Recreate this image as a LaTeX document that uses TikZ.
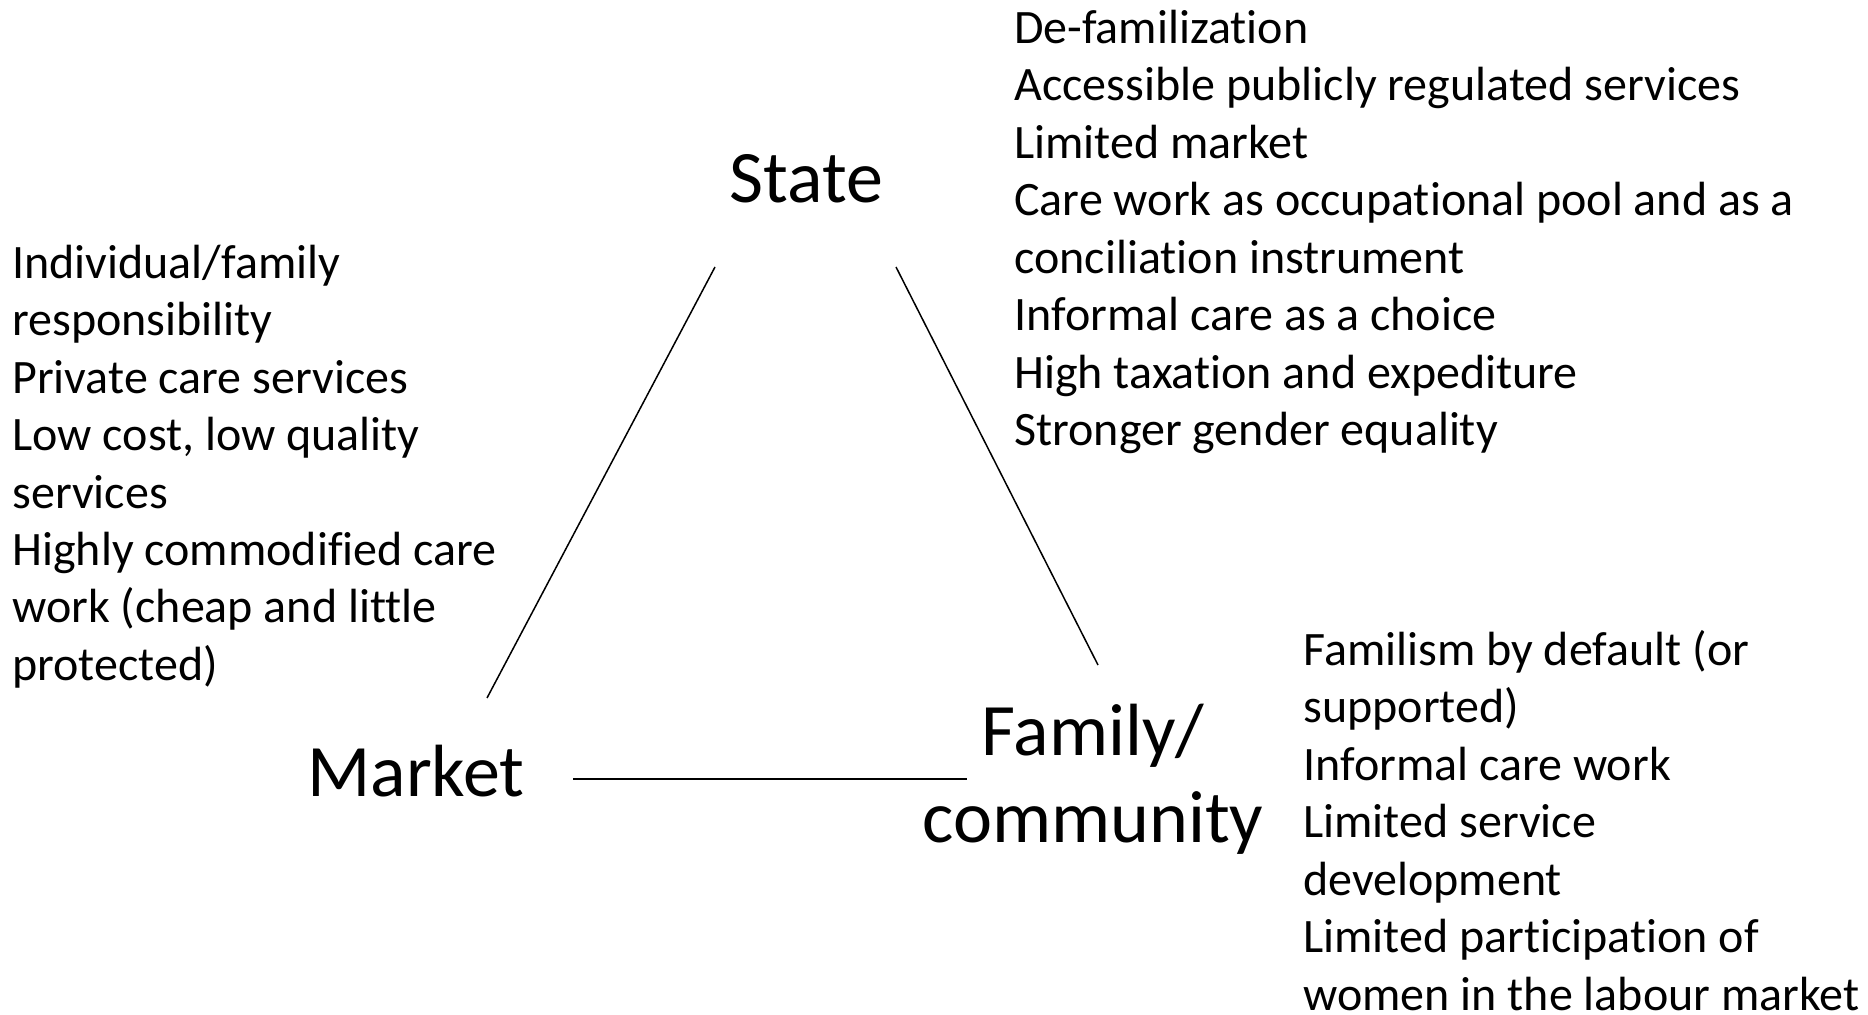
\documentclass[tikz,border=0pt]{standalone}
\usepackage{fontspec}
\setmainfont{Carlito}[Ligatures=NoCommon]
\tikzset{
  pole/.style={font=\fontsize{37}{43.5}\selectfont,inner sep=0pt},
  traits/.style={font=\fontsize{24}{28.75}\selectfont,inner sep=0pt,align=left,anchor=base west},
  side/.style={line width=0.75pt}
}
\begin{document}
\begin{tikzpicture}[x=0.5pt,y=-0.5pt]
\useasboundingbox (0,0) rectangle (1868,1015);
% the three poles
\node[pole,anchor=base west] (state) at (729,203) {State};
\node[pole,anchor=base west] (market) at (307,796) {Market};
\node[pole,align=center,anchor=base] (family) at (1093,842) {Family/\\community};
% ends of the sides
\coordinate (sl) at (715,267);
\coordinate (sr) at (896,267);
\coordinate (mt) at (487,698);
\coordinate (mr) at (573,779);
\coordinate (ft) at (1098,665);
\coordinate (fl) at (967,779);
\draw[side] (sl) -- (mt);
\draw[side] (sr) -- (ft);
\draw[side] (mr) -- (fl);
% what each pole stands for (placed by the last line)
\node[traits] (statetraits) at (1014,446) {De-familization\\Accessible publicly regulated services\\Limited market\\Care work as occupational pool and as a\\conciliation instrument\\Informal care as a choice\\High taxation and expediture\\Stronger gender equality};
\node[traits] (markettraits) at (12,680.5) {Individual/family\\responsibility\\Private care services\\Low cost, low quality\\services\\Highly commodified care\\work (cheap and little\\protected)};
\node[traits] (familytraits) at (1303,1010) {Familism by default (or\\supported)\\Informal care work\\Limited service\\development\\Limited participation of\\women in the labour market};
\end{tikzpicture}
\end{document}
